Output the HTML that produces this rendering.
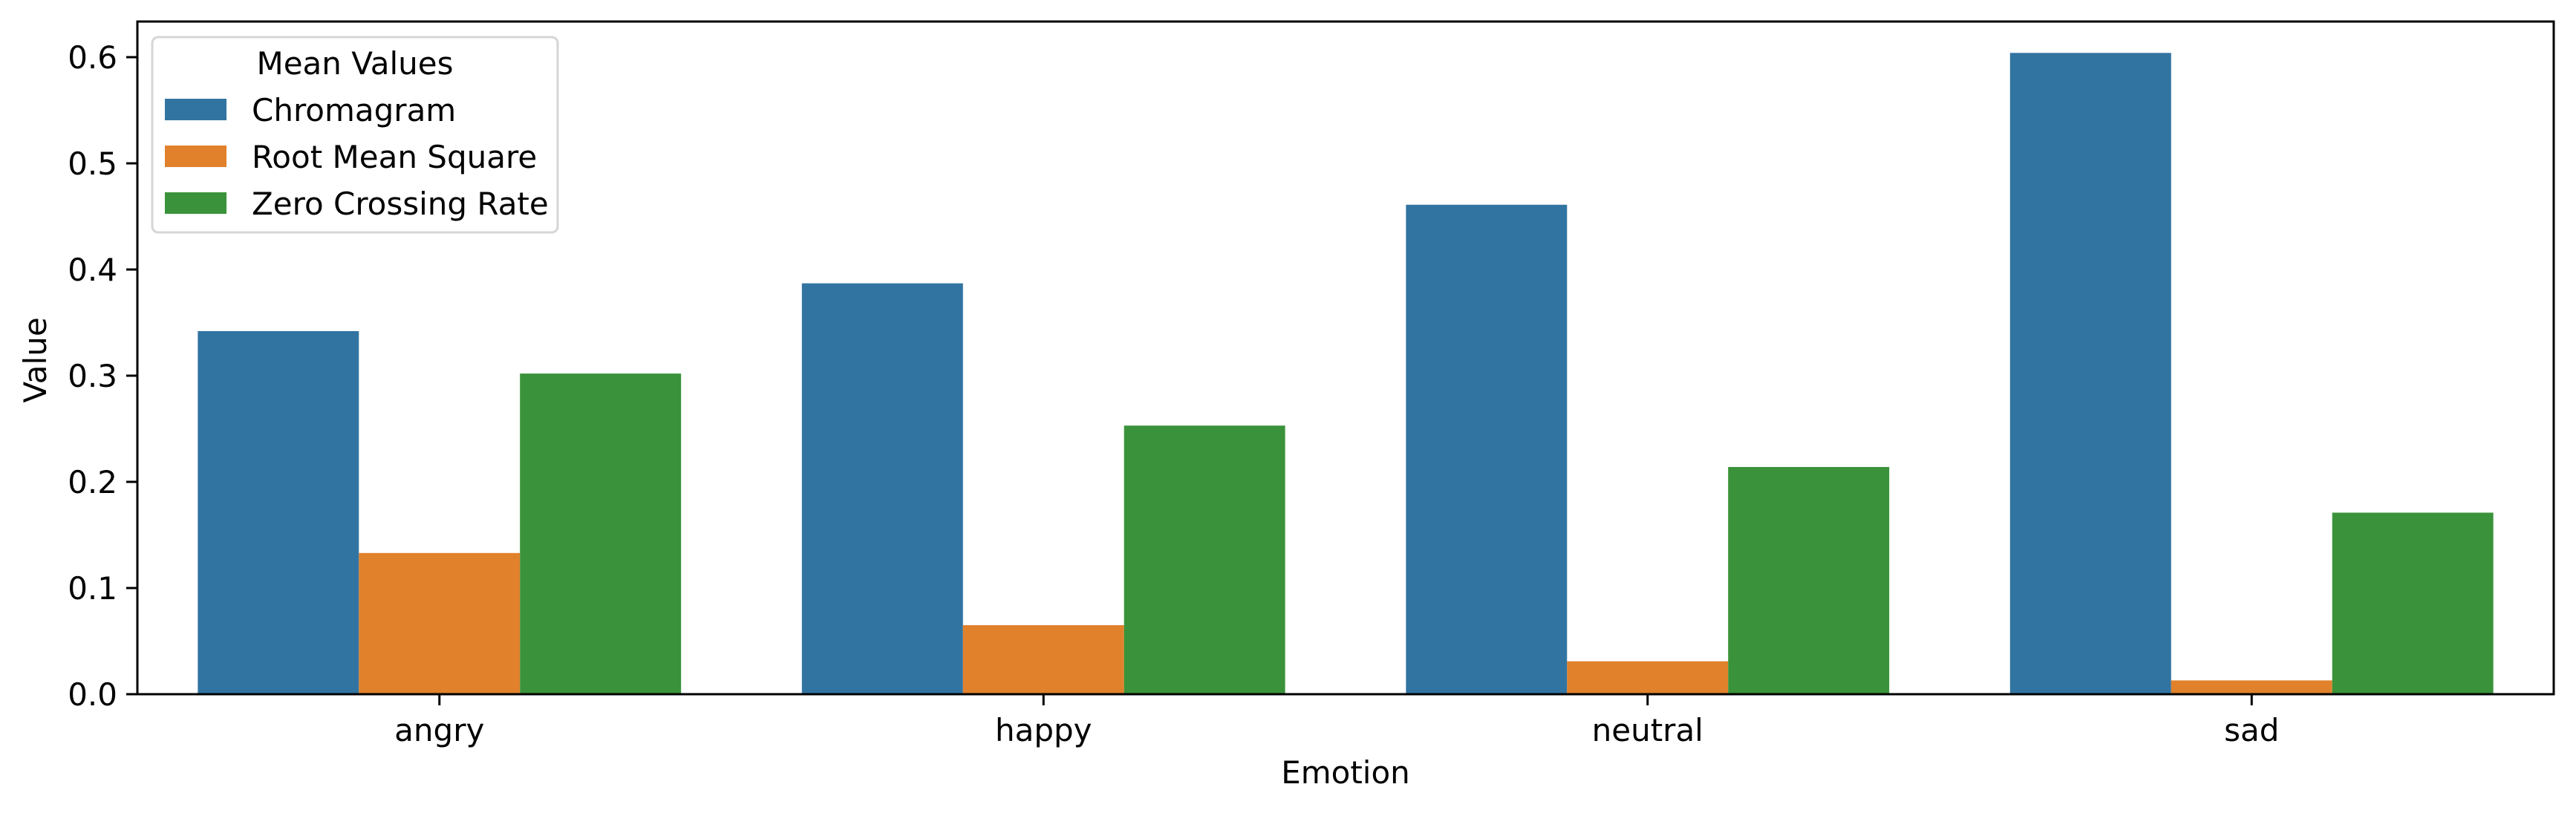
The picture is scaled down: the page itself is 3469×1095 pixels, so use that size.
<!DOCTYPE html>
<html><head><meta charset="utf-8"><style>
html,body{margin:0;padding:0;background:#fff}
svg{display:block;font-family:"DejaVu Sans","Liberation Sans",sans-serif}
</style></head><body>
<svg id="chart" width="3469" height="1095" viewBox="0 0 3469 1095" xmlns="http://www.w3.org/2000/svg">
<rect x="0" y="0" width="3469" height="1095" fill="#fff"/>
<g id="bars"></g>
<g id="axes"></g>
<g id="legend"></g>
</svg>
<script>
const categories = ["angry","happy","neutral","sad"];
const seriesNames = ["Chromagram","Root Mean Square","Zero Crossing Rate"];
const chromagram = [0.342, 0.387, 0.461, 0.604];
const rms = [0.133, 0.065, 0.031, 0.013];
const zcr = [0.302, 0.253, 0.214, 0.171];
const yTicks = [0.0, 0.1, 0.2, 0.3, 0.4, 0.5, 0.6];
const yTickLabels = ["0.0","0.1","0.2","0.3","0.4","0.5","0.6"];

const colors = ["#3274a1","#e1812c","#3a923a"];
const L = 185, R = 3439, T = 29, B = 935;
const yMax = (B - T) / 1430;
const ns = "http://www.w3.org/2000/svg";
function X(i){ return L + (i + 0.5) * (R - L) / categories.length; }
function Y(v){ return B - (v / yMax) * (B - T); }
function mk(tag, attrs, parent){ const e = document.createElementNS(ns, tag); for (const k in attrs) e.setAttribute(k, attrs[k]); parent.appendChild(e); return e; }

const bars = document.getElementById('bars');
const series = [chromagram, rms, zcr];
const step = (R - L) / categories.length;
const bw = step * 0.8 / 3;
series.forEach((vals, s) => {
  vals.forEach((v, i) => {
    const x0 = X(i) - 1.5 * bw + s * bw;
    const r = mk('rect', {x: x0, y: Y(v), width: bw, height: B - Y(v), fill: colors[s]}, bars);
    
    
  });
});

const ax = document.getElementById('axes');
yTicks.forEach((t, i) => {
  const ln = mk('line', {x1: L - 15, x2: L, y1: Y(t), y2: Y(t), stroke: '#000', 'stroke-width': 3}, ax);
  
  
  const tx = mk('text', {x: L - 27, y: Y(t) + 15, 'font-size': 42, 'text-anchor': 'end', fill: '#000'}, ax);
  tx.textContent = yTickLabels[i];
  
  
});
categories.forEach((c, i) => {
  const ln = mk('line', {x1: X(i), x2: X(i), y1: B, y2: B + 15, stroke: '#000', 'stroke-width': 3}, ax);
  
  
  const tx = mk('text', {x: X(i), y: 998, 'font-size': 42, 'text-anchor': 'middle', fill: '#000'}, ax);
  tx.textContent = c;
  
  
});
const frame = mk('rect', {x: L, y: T, width: R - L, height: B - T, fill: 'none', stroke: '#000', 'stroke-width': 3}, ax);


const xt = mk('text', {x: (L + R) / 2, y: 1055, 'font-size': 42, 'text-anchor': 'middle', fill: '#000'}, ax);
xt.textContent = 'Emotion';


const yt = mk('text', {x: 0, y: 0, 'font-size': 42, 'text-anchor': 'middle', fill: '#000', transform: 'translate(62,485) rotate(-90)'}, ax);
yt.textContent = 'Value';



const lg = document.getElementById('legend');
const box = mk('rect', {x: 205, y: 50, width: 546, height: 263, rx: 8, fill: '#fff', 'fill-opacity': 0.8, stroke: '#d6d6d6', 'stroke-width': 3}, lg);


const lt = mk('text', {x: 478, y: 100, 'font-size': 42, 'text-anchor': 'middle', fill: '#000'}, lg);
lt.textContent = 'Mean Values';


seriesNames.forEach((n, s) => {
  const cy = 148 + s * 63;
  const sw = mk('rect', {x: 222, y: cy - 15, width: 83, height: 29, fill: colors[s]}, lg);
  
  
  const t = mk('text', {x: 339, y: cy + 15, 'font-size': 42, fill: '#000'}, lg);
  t.textContent = n;
  
  
});
</script>
</body></html>
